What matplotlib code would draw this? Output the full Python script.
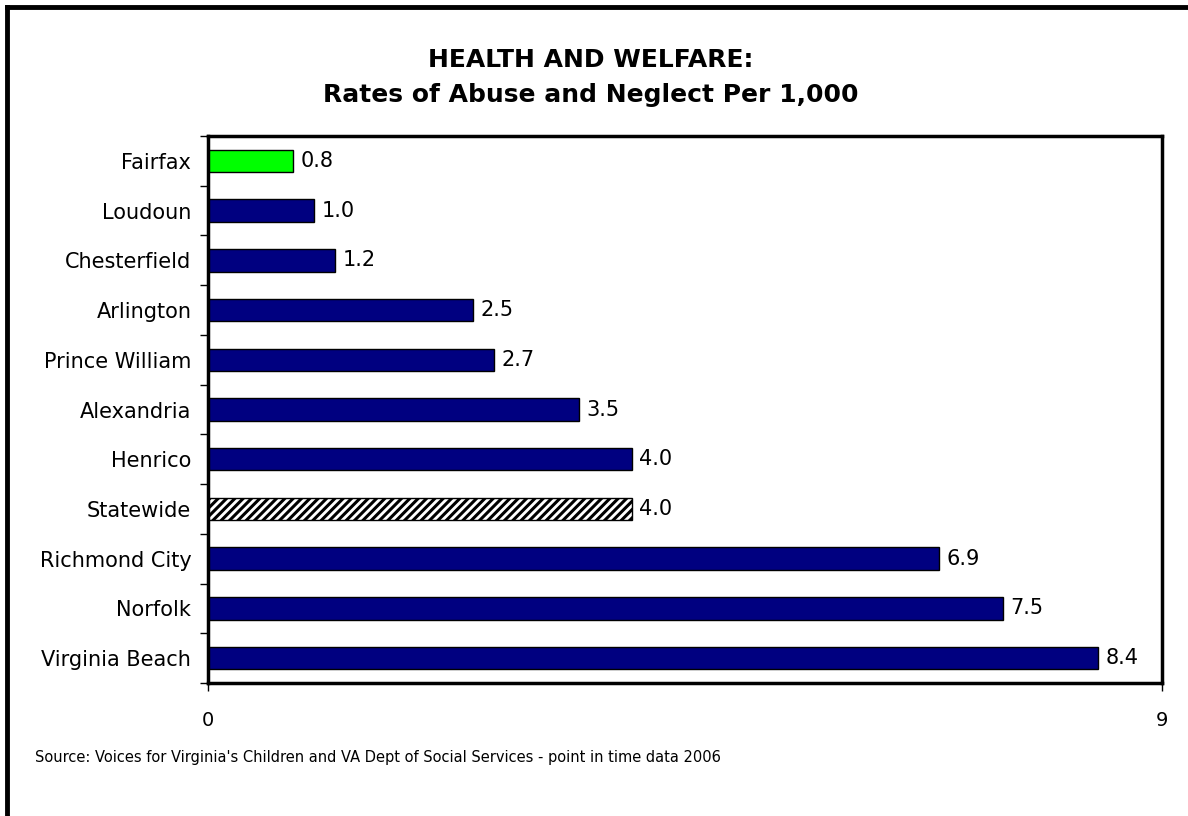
import matplotlib.pyplot as plt
from matplotlib.lines import Line2D

plt.rcParams['font.family'] = ['DejaVu Sans']
plt.rcParams['hatch.linewidth'] = 2.2

# data
places = ['Fairfax', 'Loudoun', 'Chesterfield', 'Arlington', 'Prince William',
          'Alexandria', 'Henrico', 'Statewide', 'Richmond City', 'Norfolk',
          'Virginia Beach']
rates = [0.8, 1.0, 1.2, 2.5, 2.7, 3.5, 4.0, 4.0, 6.9, 7.5, 8.4]

fig = plt.figure(figsize=(11.88, 8.16), dpi=100)
ax = fig.add_axes([0.1751, 0.1630, 0.8030, 0.6703])

ypos = list(range(len(places)))
bars = ax.barh(ypos, rates, height=0.45, color='#000080', edgecolor='black', linewidth=1)
for name, b in zip(places, bars):
    if name == 'Fairfax':
        b.set_facecolor('#00FF00')
    elif name == 'Statewide':
        b.set_facecolor('white')
        b.set_hatch('////')

for y, v in zip(ypos, rates):
    ax.text(v + 0.07, y, f'{v:.1f}', va='center', ha='left', fontsize=15)

ax.set_xlim(0, 9)
ax.set_ylim(len(places) - 0.5, -0.5)
ax.set_xticks([0, 9])
ax.set_xticklabels(['0', '9'], fontsize=14)
ax.tick_params(axis='x', length=6, width=1, pad=14)

ax.set_yticks([i - 0.5 for i in range(len(places) + 1)])
ax.set_yticklabels([])
ax.set_yticks(ypos, minor=True)
ax.set_yticklabels(places, minor=True, fontsize=15)
ax.tick_params(axis='y', which='major', length=6, width=1)
ax.tick_params(axis='y', which='minor', length=0, pad=12)

for s in ax.spines.values():
    s.set_linewidth(2.5)

fig.text(0.497, 0.926, 'HEALTH AND WELFARE:', ha='center', va='center',
         fontsize=18, fontweight='bold')
fig.text(0.497, 0.883, 'Rates of Abuse and Neglect Per 1,000', ha='center', va='center',
         fontsize=18, fontweight='bold')
fig.text(0.0295, 0.072, "Source: Voices for Virginia's Children and VA Dept of Social Services - point in time data 2006",
         ha='left', va='center', fontsize=10.5)

# outer frame on top and left
fig.add_artist(Line2D([0.0055, 1.0], [0.9920, 0.9920], color='black', linewidth=3.5))
fig.add_artist(Line2D([0.0055, 0.0055], [0.0, 0.9920], color='black', linewidth=3.5))

fig.savefig('out.png', dpi=100)
